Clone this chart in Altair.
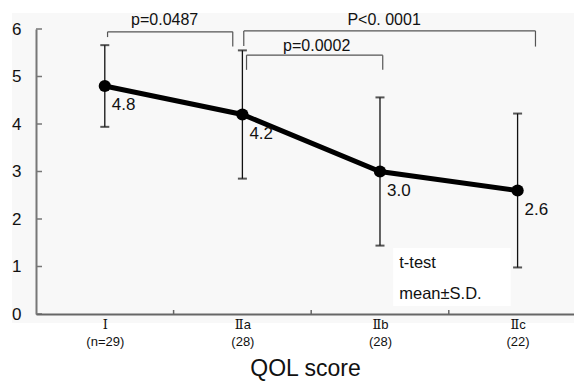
import json
import altair as alt
import pandas as pd

# ---- data ----
categories = ["Ⅰ", "Ⅱa", "Ⅱb", "Ⅱc"]
group_sizes = ["(n=29)", "(28)", "(28)", "(22)"]
means = [4.8, 4.2, 3.0, 2.6]
sds = [0.86, 1.35, 1.56, 1.62]
value_labels = ["4.8", "4.2", "3.0", "2.6"]

y_ticks = [0, 1, 2, 3, 4, 5, 6]
x_boundaries = [0.5, 1.5, 2.5]

# significance brackets (x in category-index units, y in score units)
bracket_text = ["p=0.0487", "P<0. 0001", "p=0.0002"]
bracket_left = [0.02, 1.01, 1.03]
bracket_right = [0.93, 3.13, 2.02]
bracket_top = [5.94, 5.96, 5.45]
bracket_left_drop = [5.83, 5.64, 5.14]
bracket_right_drop = [5.63, 5.63, 5.14]
bracket_text_x = [0.435, 2.03, 1.54]
bracket_text_y = [6.19, 6.19, 5.64]

note_lines = ["t-test", "mean±S.D."]
note_y = [1.07, 0.42]
note_x = [2.14, 2.14]

X_DOMAIN = [-0.5, 3.41]
Y_DOMAIN = [0, 6]

# ---- tables ----
df = pd.DataFrame({
    "idx": list(range(len(categories))),
    "cat": categories,
    "mean": means,
    "sd": sds,
    "label": value_labels,
})
df["lo"] = df["mean"] - df["sd"]
df["hi"] = df["mean"] + df["sd"]

seg_rows = []
for i in range(len(bracket_text)):
    seg_rows.append({"x": bracket_left[i], "x2": bracket_right[i], "y": bracket_top[i], "y2": bracket_top[i]})
    seg_rows.append({"x": bracket_left[i], "x2": bracket_left[i], "y": bracket_top[i], "y2": bracket_left_drop[i]})
    seg_rows.append({"x": bracket_right[i], "x2": bracket_right[i], "y": bracket_top[i], "y2": bracket_right_drop[i]})
seg_df = pd.DataFrame(seg_rows)
btxt_df = pd.DataFrame({"x": bracket_text_x, "y": bracket_text_y, "t": bracket_text})
note_df = pd.DataFrame({"x": note_x, "y": note_y, "t": note_lines})
box_df = pd.DataFrame({"x": [2.096], "x2": [2.95], "y": [0.17], "y2": [1.39]})
bg_df = pd.DataFrame({"x": [-0.675], "x2": [3.6], "y": [-0.19], "y2": [6.337]})
ytick_df = pd.DataFrame({"v": y_ticks})
xtick_df = pd.DataFrame({"v": x_boundaries})

xs = alt.Scale(domain=X_DOMAIN, nice=False, zero=False)
ys = alt.Scale(domain=Y_DOMAIN, nice=False, zero=False)

label_expr = json.dumps([[c, n] for c, n in zip(categories, group_sizes)], ensure_ascii=False) + "[datum.value]"

XA = alt.Axis(
    values=[0, 1, 2, 3], labelExpr=label_expr, ticks=False, tickSize=0, grid=False, zindex=1,
    domainColor="#666666", domainWidth=2, labelFont="Liberation Sans, DejaVu Serif", labelFontSize=13,
    labelColor="#111111", labelLineHeight=17, labelBaseline="top", labelPadding=4,
    title="QOL score", titleFont="Liberation Sans", titleFontSize=23, titleFontWeight="normal",
    titleColor="#111111", titlePadding=9,
)
YA = alt.Axis(
    values=y_ticks, ticks=False, tickSize=0, grid=False, zindex=1, domainColor="#777777", domainWidth=2,
    labelFont="Liberation Sans", labelFontSize=17, labelColor="#111111", labelPadding=15,
    title=None,
)


def X(f):
    return alt.X(f, scale=xs, axis=XA)


def Y(f):
    return alt.Y(f, scale=ys, axis=YA)


bg = alt.Chart(bg_df).mark_rect(color="#f8f8f8").encode(x=X("x:Q"), x2="x2", y=Y("y:Q"), y2="y2")

box = alt.Chart(box_df).mark_rect(color="#ffffff").encode(x=X("x:Q"), x2="x2", y=Y("y:Q"), y2="y2")

yt = alt.Chart(ytick_df).mark_rule(color="#777777", strokeWidth=1.5).encode(
    y=Y("v:Q"), x=alt.value(0), x2=alt.value(6))

xt = alt.Chart(xtick_df).mark_rule(color="#666666", strokeWidth=1.5).encode(
    x=X("v:Q"), y=alt.value(285), y2=alt.value(281))

err = alt.Chart(df).mark_rule(color="#111111", strokeWidth=1.3).encode(
    x=X("idx:Q"), y=Y("lo:Q"), y2="hi")

cap_hi = alt.Chart(df).mark_tick(color="#111111", orient="horizontal", size=9, thickness=2).encode(
    x=X("idx:Q"), y=Y("hi:Q"))
cap_lo = alt.Chart(df).mark_tick(color="#111111", orient="horizontal", size=9, thickness=2).encode(
    x=X("idx:Q"), y=Y("lo:Q"))

line = alt.Chart(df).mark_line(color="#000000", strokeWidth=5).encode(x=X("idx:Q"), y=Y("mean:Q"))

pts = alt.Chart(df).mark_point(filled=True, color="#000000", size=150, opacity=1).encode(
    x=X("idx:Q"), y=Y("mean:Q"))

vals = alt.Chart(df).mark_text(align="left", baseline="middle", dx=7, dy=19, font="Liberation Sans",
                               fontSize=17, color="#111111").encode(
    x=X("idx:Q"), y=Y("mean:Q"), text="label")

segs = alt.Chart(seg_df).mark_rule(color="#555555", strokeWidth=1.2).encode(
    x=X("x:Q"), x2="x2", y=Y("y:Q"), y2="y2")

btxt = alt.Chart(btxt_df).mark_text(align="center", baseline="middle", font="Liberation Sans",
                                    fontSize=16, color="#111111").encode(
    x=X("x:Q"), y=Y("y:Q"), text="t")

notes = alt.Chart(note_df).mark_text(align="left", baseline="middle", font="Liberation Sans",
                                     fontSize=16.5, color="#111111").encode(
    x=X("x:Q"), y=Y("y:Q"), text="t")

chart = alt.layer(bg, box, yt, xt, err, cap_hi, cap_lo, line, pts, vals, segs, btxt, notes).properties(
    width=538, height=285,
    autosize=alt.AutoSizeParams(type="none"),
    padding={"left": 36, "top": 29, "right": 0, "bottom": 69},
    background="#ffffff",
).configure_view(stroke=None)

chart.save("out.html", embed_options={"renderer": "svg", "actions": False})
